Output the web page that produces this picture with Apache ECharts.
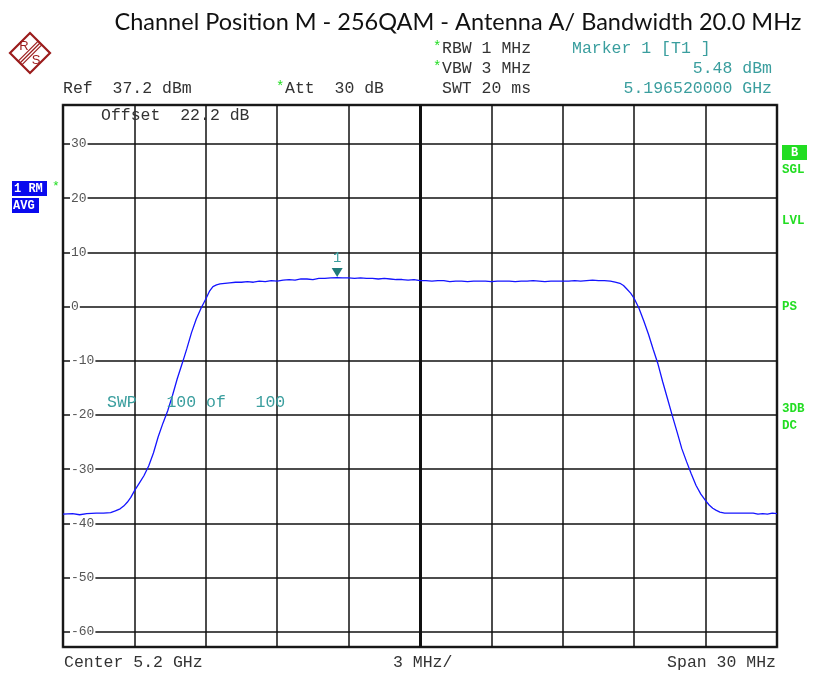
<!DOCTYPE html>
<html><head><meta charset="utf-8">
<script src="https://cdn.jsdelivr.net/npm/echarts@6/dist/echarts.min.js"></script>
<style>html,body{margin:0;padding:0;background:#fff}#c{width:820px;height:673px}</style>
</head><body><div id="c"></div><script>
// ---- data ----
const titleText = 'Channel Position M - 256QAM - Antenna A/ Bandwidth 20.0 MHz';
const spanStartMHz = -15, spanEndMHz = 15, divMHz = 3;
const refLevelDbm = 37.2, bottomLevelDbm = -62.8;
const centerMHz = 0;
const markerFreqMHz = -3.48, markerLevelDbm = 5.48, markerName = '1';
const freqMHz = [-15.0,-14.6,-14.3,-14.0,-13.6,-13.3,-13.0,-12.8,-12.6,-12.45,-12.3,-12.15,-12.0,-11.8,-11.6,-11.4,-11.2,-11.0,-10.8,-10.6,-10.4,-10.2,-10.0,-9.8,-9.6,-9.4,-9.2,-9.0,-8.85,-8.7,-8.55,-8.4,-8.2,-8.0,-7.75,-7.5,-7.25,-7.0,-6.75,-6.5,-6.25,-6.0,-5.75,-5.5,-5.25,-5.0,-4.75,-4.5,-4.25,-4.0,-3.75,-3.48,-3.25,-3.0,-2.75,-2.5,-2.25,-2.0,-1.75,-1.5,-1.25,-1.0,-0.75,-0.5,-0.25,0,0.25,0.5,0.75,1.0,1.25,1.5,1.75,2.0,2.25,2.5,2.75,3.0,3.25,3.5,3.75,4.0,4.25,4.5,4.75,5.0,5.25,5.5,5.75,6.0,6.25,6.5,6.75,7.0,7.25,7.5,7.75,8.0,8.2,8.4,8.55,8.7,8.85,9.0,9.2,9.4,9.6,9.8,10.0,10.2,10.4,10.6,10.8,11.0,11.2,11.4,11.6,11.8,12.0,12.15,12.3,12.45,12.6,12.8,13.0,13.3,13.6,14.0,14.2,14.4,14.6,14.8,15.0];
const levelDbm = [-38.3,-38.2,-38.4,-38.2,-38.1,-38.1,-38.0,-37.7,-37.3,-36.8,-36.1,-35.2,-34.0,-32.6,-31.2,-29.4,-27.0,-24.0,-21.5,-19.2,-16.4,-13.3,-10.6,-7.8,-4.8,-2.3,-0.3,1.4,2.8,3.7,4.0,4.2,4.3,4.4,4.5,4.5,4.6,4.5,4.7,4.6,4.8,4.7,4.9,5.0,4.9,5.1,5.1,5.0,5.2,5.2,5.3,5.35,5.3,5.3,5.2,5.3,5.2,5.2,5.1,5.2,5.1,5.0,5.0,4.9,5.0,4.8,4.8,4.7,4.8,4.8,4.6,4.7,4.7,4.6,4.7,4.7,4.7,4.6,4.7,4.7,4.7,4.6,4.7,4.7,4.8,4.7,4.6,4.7,4.7,4.7,4.7,4.8,4.7,4.8,4.9,4.8,4.8,4.7,4.5,4.3,3.9,3.2,2.5,1.5,-0.3,-2.6,-5.1,-7.9,-10.6,-13.9,-17.0,-20.1,-23.1,-26.2,-28.6,-30.9,-33.0,-34.6,-35.8,-36.6,-37.2,-37.6,-37.9,-38.1,-38.1,-38.1,-38.1,-38.1,-38.3,-38.2,-38.3,-38.1,-38.2];
const yTickLabels = [30,20,10,0,-10,-20,-30,-40,-50,-60];

// ---- chart ----
const mono = '"Liberation Mono", "DejaVu Sans Mono", monospace';
const gray = '#333', teal = '#3a9e9e', green = '#22dd22', blue = '#0a0aee', logoRed = '#9b1c1c';
function txt(x, y, text, opt) {
  opt = opt || {};
  const align = opt.align || 'left';
  return { type: 'text', x: x, y: y, z: 100, style: {
    text: text, fill: opt.color || gray,
    font: (opt.weight || 'normal') + ' ' + (opt.size || 16.5) + 'px ' + (opt.family || mono),
    textAlign: align, align: align, textVerticalAlign: 'middle', verticalAlign: 'middle' } };
}
const data = freqMHz.map((f, i) => [f, levelDbm[i]]);
const chart = echarts.init(document.getElementById('c'), null, { renderer: 'canvas' });
chart.setOption({
  animation: false,
  backgroundColor: '#fff',
  grid: { left: 63, right: 43, top: 105, bottom: 26, show: true, borderColor: '#333', borderWidth: 2.5, backgroundColor: 'transparent' },
  xAxis: { type: 'value', min: spanStartMHz, max: spanEndMHz, interval: divMHz,
    axisLabel: { show: false }, axisTick: { show: false }, axisLine: { show: false },
    splitLine: { show: true, lineStyle: { color: '#111', width: 1.5 } } },
  yAxis: { type: 'value', min: bottomLevelDbm, max: refLevelDbm, splitNumber: 10,
    axisTick: { show: false }, axisLine: { show: false },
    axisLabel: { inside: true, margin: 7, color: '#555', fontFamily: mono, fontSize: 13,
      backgroundColor: '#fff', padding: [0, 1, 0, 1],
      formatter: function (v) { const r = Math.round(v); return (Math.abs(v - r) < 1e-6 && yTickLabels.indexOf(r) >= 0) ? String(r) : ''; } },
    splitLine: { show: true, lineStyle: { color: '#111', width: 1.5 } } },
  series: [{
    type: 'line', data: data, showSymbol: false, symbol: 'none', smooth: false,
    lineStyle: { color: '#1414ff', width: 1.3 }, z: 5,
    markLine: { silent: true, symbol: 'none', label: { show: false },
      lineStyle: { color: '#111', width: 3, type: 'solid' }, data: [{ xAxis: centerMHz }] },
    markPoint: { silent: true,
      data: [{ coord: [markerFreqMHz, markerLevelDbm] }],
      symbol: 'path://M0,0 L10,0 L5,8 Z', symbolSize: [11, 9], symbolOffset: [0, '-50%'],
      itemStyle: { color: '#1f7a7a' },
      label: { show: true, position: 'top', distance: 3, formatter: markerName, color: teal, fontFamily: mono, fontSize: 14 } }
  }],
  graphic: [
    txt(458, 22, titleText, { family: 'Lato, "Open Sans", sans-serif', size: 23.5, color: '#111', align: 'center' }),
    // R&S logo
    { type: 'group', x: 30, y: 53, z: 100, children: [
      { type: 'polygon', shape: { points: [[0,-20],[20,0],[0,20],[-20,0]] }, style: { fill: 'none', stroke: logoRed, lineWidth: 2.2 } },
      { type: 'line', shape: { x1: -11.8, y1: 8.2, x2: 8.2, y2: -11.8 }, style: { stroke: logoRed, lineWidth: 1.2 } },
      { type: 'line', shape: { x1: -10, y1: 10, x2: 10, y2: -10 }, style: { stroke: logoRed, lineWidth: 1.2 } },
      { type: 'line', shape: { x1: -8.2, y1: 11.8, x2: 11.8, y2: -8.2 }, style: { stroke: logoRed, lineWidth: 1.2 } },
      { type: 'text', x: -6, y: -7, style: { text: 'R', fill: logoRed, font: '13px "Liberation Sans"', textAlign: 'center', align: 'center', textVerticalAlign: 'middle', verticalAlign: 'middle' } },
      { type: 'text', x: 6, y: 7, style: { text: 'S', fill: logoRed, font: '13px "Liberation Sans"', textAlign: 'center', align: 'center', textVerticalAlign: 'middle', verticalAlign: 'middle' } }
    ] },
    txt(433, 47, '*', { color: green, size: 14 }),
    txt(442, 49, 'RBW 1 MHz'),
    txt(433, 67, '*', { color: green, size: 14 }),
    txt(442, 69, 'VBW 3 MHz'),
    txt(442, 89, 'SWT 20 ms'),
    txt(572, 49, 'Marker 1 [T1 ]', { color: teal }),
    txt(772, 69, '5.48 dBm', { color: teal, align: 'right' }),
    txt(772, 89, '5.196520000 GHz', { color: teal, align: 'right' }),
    txt(63, 89, 'Ref  37.2 dBm'),
    txt(276, 87, '*', { color: green, size: 14 }),
    txt(285, 89, 'Att  30 dB'),
    txt(101, 116, 'Offset  22.2 dB'),
    txt(107, 403, 'SWP   100 of   100', { color: teal }),
    txt(64, 663, 'Center 5.2 GHz'),
    txt(393, 663, '3 MHz/'),
    txt(776, 663, 'Span 30 MHz', { align: 'right' }),
    // left status boxes
    { type: 'rect', z: 100, shape: { x: 12, y: 181, width: 35, height: 15 }, style: { fill: blue } },
    txt(14, 189, '1 RM', { color: '#fff', size: 12, weight: 'bold' }),
    txt(52, 187, '*', { color: green, size: 13 }),
    { type: 'rect', z: 100, shape: { x: 12, y: 198, width: 27, height: 15 }, style: { fill: blue } },
    txt(13, 206, 'AVG', { color: '#fff', size: 12, weight: 'bold' }),
    // right status
    { type: 'rect', z: 100, shape: { x: 782, y: 145, width: 25, height: 15 }, style: { fill: green } },
    txt(794.5, 153, 'B', { color: '#fff', size: 12, weight: 'bold', align: 'center' }),
    txt(782, 170, 'SGL', { color: green, size: 12.5, weight: 'bold' }),
    txt(782, 221, 'LVL', { color: green, size: 12.5, weight: 'bold' }),
    txt(782, 307, 'PS', { color: green, size: 12.5, weight: 'bold' }),
    txt(782, 409, '3DB', { color: green, size: 12.5, weight: 'bold' }),
    txt(782, 426, 'DC', { color: green, size: 12.5, weight: 'bold' })
  ]
});
</script></body></html>
